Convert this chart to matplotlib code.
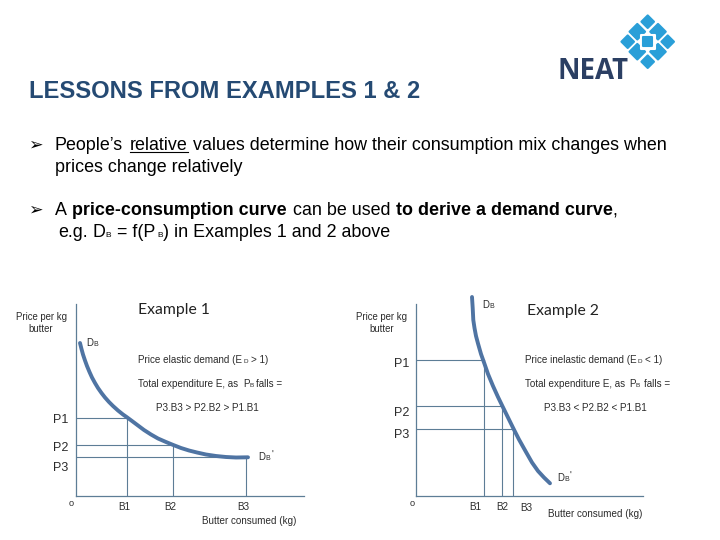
import matplotlib
matplotlib.use("Agg")
import matplotlib.pyplot as plt
from matplotlib.patches import Polygon

# curve values, units are px from the axis corner
ex1_qty = [4, 5.5, 7, 9, 11, 13.5, 16, 19, 22, 25.5, 29, 33, 37, 42, 47, 51, 56, 62, 68, 75, 82, 90,
           97.3, 105, 113, 121, 130, 140, 150, 160, 172]
ex1_price = [153, 147, 141.5, 135.5, 130, 124, 118.5, 113, 108, 103, 98.5, 94, 90, 85.5, 81.5, 78.7, 75, 70.5, 66, 61.5, 57.5, 54,
             51, 48, 45.5, 43.5, 41.5, 40, 39, 38.5, 38.7]
ex1_b = [51.3, 97.3, 170]
ex1_p = [77.7, 50.7, 38.7]

ex2_qty = [56, 56.7, 57.3, 58.5, 60, 62, 65, 68.3, 72, 77, 82, 86.7, 92, 97.3, 103, 110, 116, 122, 128, 134]
ex2_price = [199, 188, 176, 168, 160, 152.5, 142, 132.7, 122, 110, 99, 89.3, 78.5, 67.7, 56.5, 44, 33.5, 25, 18.5, 12.7]
ex2_b = [68.3, 85.7, 97.3]
ex2_p = [135.7, 89.7, 66.7]

b_labels = ["B1", "B2", "B3"]
p_labels = ["P1", "P2", "P3"]

W, H = 720, 540
AXIS = "#5d7d96"
CURVE = "#4f74a3"
TITLE = "#254a73"
GREY = "#2b2b2b"
LOGO = "#2a9fd8"
BODY = 12.9
SMALL = 7.1

plt.rcParams["font.family"] = "Liberation Sans"
fig = plt.figure(figsize=(7.2, 5.4), dpi=100)

# overlay in pixel coordinates for all the slide text
bg = fig.add_axes([0, 0, 1, 1])
bg.set_xlim(0, W)
bg.set_ylim(H, 0)
bg.axis("off")


def put(x, y, s, size=BODY, color="black", ha="left", **kw):
    bg.text(x, y, s, fontsize=size, color=color, ha=ha, va="baseline", **kw)


def diamond(cx, cy, r, color=LOGO):
    pts = [(cx, cy - r), (cx + r, cy), (cx, cy + r), (cx - r, cy)]
    bg.add_patch(Polygon(pts, closed=True, fc=color, ec=color, lw=1.5, joinstyle="round"))


def square(cx, cy, r, color=LOGO):
    pts = [(cx - r, cy - r), (cx + r, cy - r), (cx + r, cy + r), (cx - r, cy + r)]
    bg.add_patch(Polygon(pts, closed=True, fc=color, ec=color, lw=1.5, joinstyle="round"))


def draw_chart(left, right, top, bottom, qty, price, b_vals, p_vals):
    ax = fig.add_axes([left / W, 1 - bottom / H, (right - left) / W, (bottom - top) / H])
    ax.patch.set_alpha(0)
    ax.set_xlim(0, right - left)
    ax.set_ylim(0, bottom - top)
    for name in ["top", "right"]:
        ax.spines[name].set_visible(False)
    for name in ["left", "bottom"]:
        ax.spines[name].set_color(AXIS)
        ax.spines[name].set_linewidth(0.9)
    ax.set_xticks([])
    ax.set_yticks([])
    for b, p in zip(b_vals, p_vals):
        ax.plot([0, b], [p, p], color=AXIS, lw=0.8)
        ax.plot([b, b], [0, p], color=AXIS, lw=0.8)
    ax.plot(qty, price, color=CURVE, lw=2.8, clip_on=False, solid_capstyle="round")
    return ax


def d_label(x, y, prime=False):
    put(x, y, "D", 6.9, GREY)
    put(x + 7, y, "B", 5, GREY)
    if prime:
        put(x + 13, y - 2, "'", 6.9, GREY)


draw_chart(76, 304, 304, 496, ex1_qty, ex1_price, ex1_b, ex1_p)
draw_chart(416, 643, 304, 496, ex2_qty, ex2_price, ex2_b, ex2_p)

# header
put(29, 97.5, "LESSONS FROM EXAMPLES 1 & 2", 17.1, TITLE, weight="bold")
put(558, 79, "NEAT", 19.9, "#2b3f63", family="Open Sans", weight="bold")

# logo: inner ring first, outer diamonds on top with a white gap
for cx, cy in [(637.3, 31.7), (658, 31.7), (637.3, 51.7), (658, 51.7)]:
    diamond(cx, cy, 7.8)
square(647.7, 41.7, 7, "white")
square(647.7, 41.7, 4.4)
for cx, cy in [(647.7, 21.7), (627.7, 41.7), (667.7, 41.7), (647.7, 61.7)]:
    diamond(cx, cy, 8.2, "white")
    diamond(cx, cy, 6.3)

# bullets
put(28, 150, "➢", 12.5, family="DejaVu Sans")
put(55, 150, "People’s")
put(129.5, 150, "relative")
bg.plot([129.5, 188], [152, 152], color="black", lw=0.8)
put(193, 150, "values determine how their consumption mix changes when")
put(55, 172, "prices change relatively")

put(28, 215, "➢", 12.5, family="DejaVu Sans")
put(55, 215, "A")
put(72, 215, "price-consumption curve", weight="bold")
put(293, 215, "can be used")
put(396, 215, "to derive a demand curve", weight="bold")
put(612.5, 215, ",")
put(58, 237, "e.g.")
put(92, 237, "D")
put(105, 237, "B", 6)
put(117, 237, "= f(P")
put(157, 237, "B", 6)
put(163, 237, ") in Examples 1 and 2 above")

# example 1
put(138, 314, "Example 1", 11.3, "#222222", family="Lato")
put(41, 320, "Price per kg", 6.9, GREY, ha="center")
put(41, 332, "butter", 6.9, GREY, ha="center")
d_label(86, 346)
put(138, 363, "Price elastic demand (E", SMALL, GREY)
put(243, 363, "D", 4.6, GREY)
put(251, 363, "> 1)", SMALL, GREY)
put(138, 387, "Total expenditure E, as", SMALL, GREY)
put(243, 387, "P", SMALL, GREY)
put(250, 387, "B", 4.6, GREY)
put(256, 387, "falls =", SMALL, GREY)
put(156, 411, "P3.B3 > P2.B2 > P1.B1", SMALL, GREY)
for y, lab in zip([423, 451, 471], p_labels):
    put(53, y, lab, 9, GREY)
put(71, 506, "o", 6.6, GREY, ha="center")
for x, lab in zip([124, 170, 243], b_labels):
    put(x, 510, lab, SMALL, GREY, ha="center")
put(202, 524, "Butter consumed (kg)", SMALL, GREY)
d_label(258, 460, prime=True)

# example 2
put(527, 315, "Example 2", 11.3, "#222222", family="Lato")
put(382, 320, "Price per kg", 6.9, GREY, ha="center")
put(382, 332, "butter", 6.9, GREY, ha="center")
d_label(482, 308)
put(525, 363, "Price inelastic demand (E", SMALL, GREY)
put(638, 363, "D", 4.6, GREY)
put(645, 363, "< 1)", SMALL, GREY)
put(525, 387, "Total expenditure E, as", SMALL, GREY)
put(629, 387, "P", SMALL, GREY)
put(636, 387, "B", 4.6, GREY)
put(644, 387, "falls =", SMALL, GREY)
put(544, 411, "P3.B3 < P2.B2 < P1.B1", SMALL, GREY)
for y, lab in zip([367, 416, 438], p_labels):
    put(394, y, lab, 9, GREY)
put(412, 506, "o", 6.6, GREY, ha="center")
for x, y, lab in zip([475, 502, 526], [510, 510, 511], b_labels):
    put(x, y, lab, SMALL, GREY, ha="center")
put(548, 517, "Butter consumed (kg)", SMALL, GREY)
d_label(557, 481, prime=True)

fig.savefig("out.png", dpi=100)
